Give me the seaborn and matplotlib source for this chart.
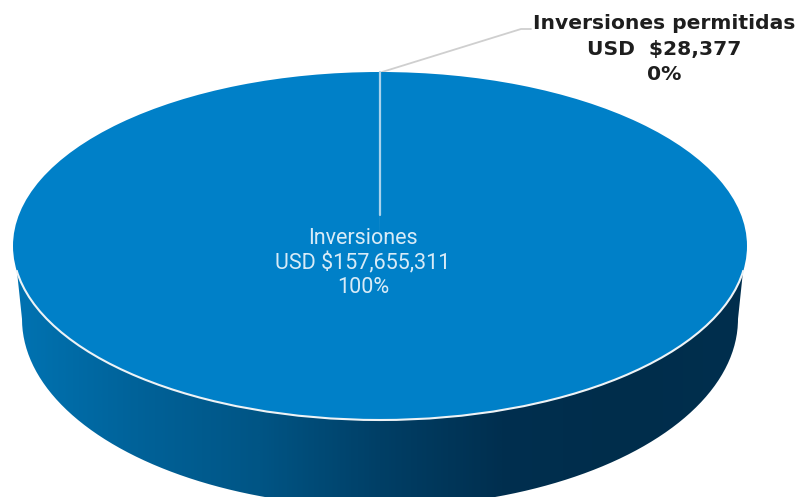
import numpy as np
import seaborn as sns
import matplotlib
matplotlib.use('Agg')
import matplotlib.pyplot as plt
from matplotlib.patches import Arc, PathPatch
from matplotlib.path import Path

# values from the chart
labels = ['Inversiones', 'Inversiones permitidas']
amounts = [157655311, 28377]
amount_text = ['USD $157,655,311', 'USD  $28,377']
percent_text = ['100%', '0%']
top_colors = ['#0080C8', '#0080C8']
side_colors = ['#0073B2', '#006299', '#005585', '#003F66', '#002F4F', '#002D4B', '#002F4E']

sns.set_theme(style='white')

W, H = 798, 497
cx, cy, rx, ry = 380, 246, 367, 174     # top ellipse in pixels


def px(x, y):
    # picture pixels to pie units
    return (x - cx) / rx, (cy - y) / ry


fig = plt.figure(figsize=(W / 100, H / 100), dpi=100)
ax = fig.add_axes([0, 0, 1, 1])

wedges, _ = ax.pie(amounts, colors=top_colors, startangle=90, counterclock=False,
                   radius=1, wedgeprops={'linewidth': 0, 'zorder': 3})
ax.set_aspect('auto')

# side of the disc
t = np.linspace(np.pi, 2 * np.pi, 200)
low_x = (380 + 358 * np.cos(t) - cx) / rx
low_y = (cy - (319 - 188 * np.sin(t))) / ry
outline = np.vstack([[px(16, 262)], np.column_stack([low_x, low_y]), [px(744, 262)], [px(16, 262)]])
clip = PathPatch(Path(outline), transform=ax.transData, facecolor='none', edgecolor='none')
ax.add_patch(clip)
cmap = sns.blend_palette(side_colors, as_cmap=True)
grad = np.linspace(0, 1, 400).reshape(1, -1)
left, _ = px(13, 0)
right, _ = px(747, 0)
_, top = px(0, 246)
_, bottom = px(0, H)
im = ax.imshow(grad, cmap=cmap, extent=[left, right, bottom, top], aspect='auto', zorder=1)
im.set_clip_path(clip)

# white rim on the front of the disc, and the slice boundary
ax.add_patch(Arc((0, 0), 2, 2, theta1=188, theta2=352, edgecolor='#EEF3F6', linewidth=1.5, zorder=4))
x0, y0 = px(380, 72)
x1, y1 = px(380, 215)
ax.plot([x0, x1], [y0, y1], color='#A9D2EC', linewidth=1.6, zorder=4)

# leader line to the small slice
lx, ly = zip(px(382, 72), px(521, 29), px(531, 29))
ax.plot(lx, ly, color='#CFCFCF', linewidth=1.3, zorder=2, clip_on=False)

# labels
tx, ty = px(363, 263)
ax.text(tx, ty, f'{labels[0]}\n{amount_text[0]}\n{percent_text[0]}', color='#D8EBF7', fontsize=15.5,
        family='Roboto', weight='normal', ha='center', va='center', linespacing=1.17, zorder=5)
tx, ty = px(664, 49)
ax.text(tx, ty, f'{labels[1]}\n{amount_text[1]}\n{percent_text[1]}', color='#1E1E1E', fontsize=14.6,
        family='DejaVu Sans', weight='bold', ha='center', va='center', linespacing=1.45, zorder=5)

ax.set_xlim(px(0, 0)[0], px(W, 0)[0])
ax.set_ylim(px(0, H)[1], px(0, 0)[1])
ax.set_axis_off()

fig.savefig('out.png', dpi=100)
